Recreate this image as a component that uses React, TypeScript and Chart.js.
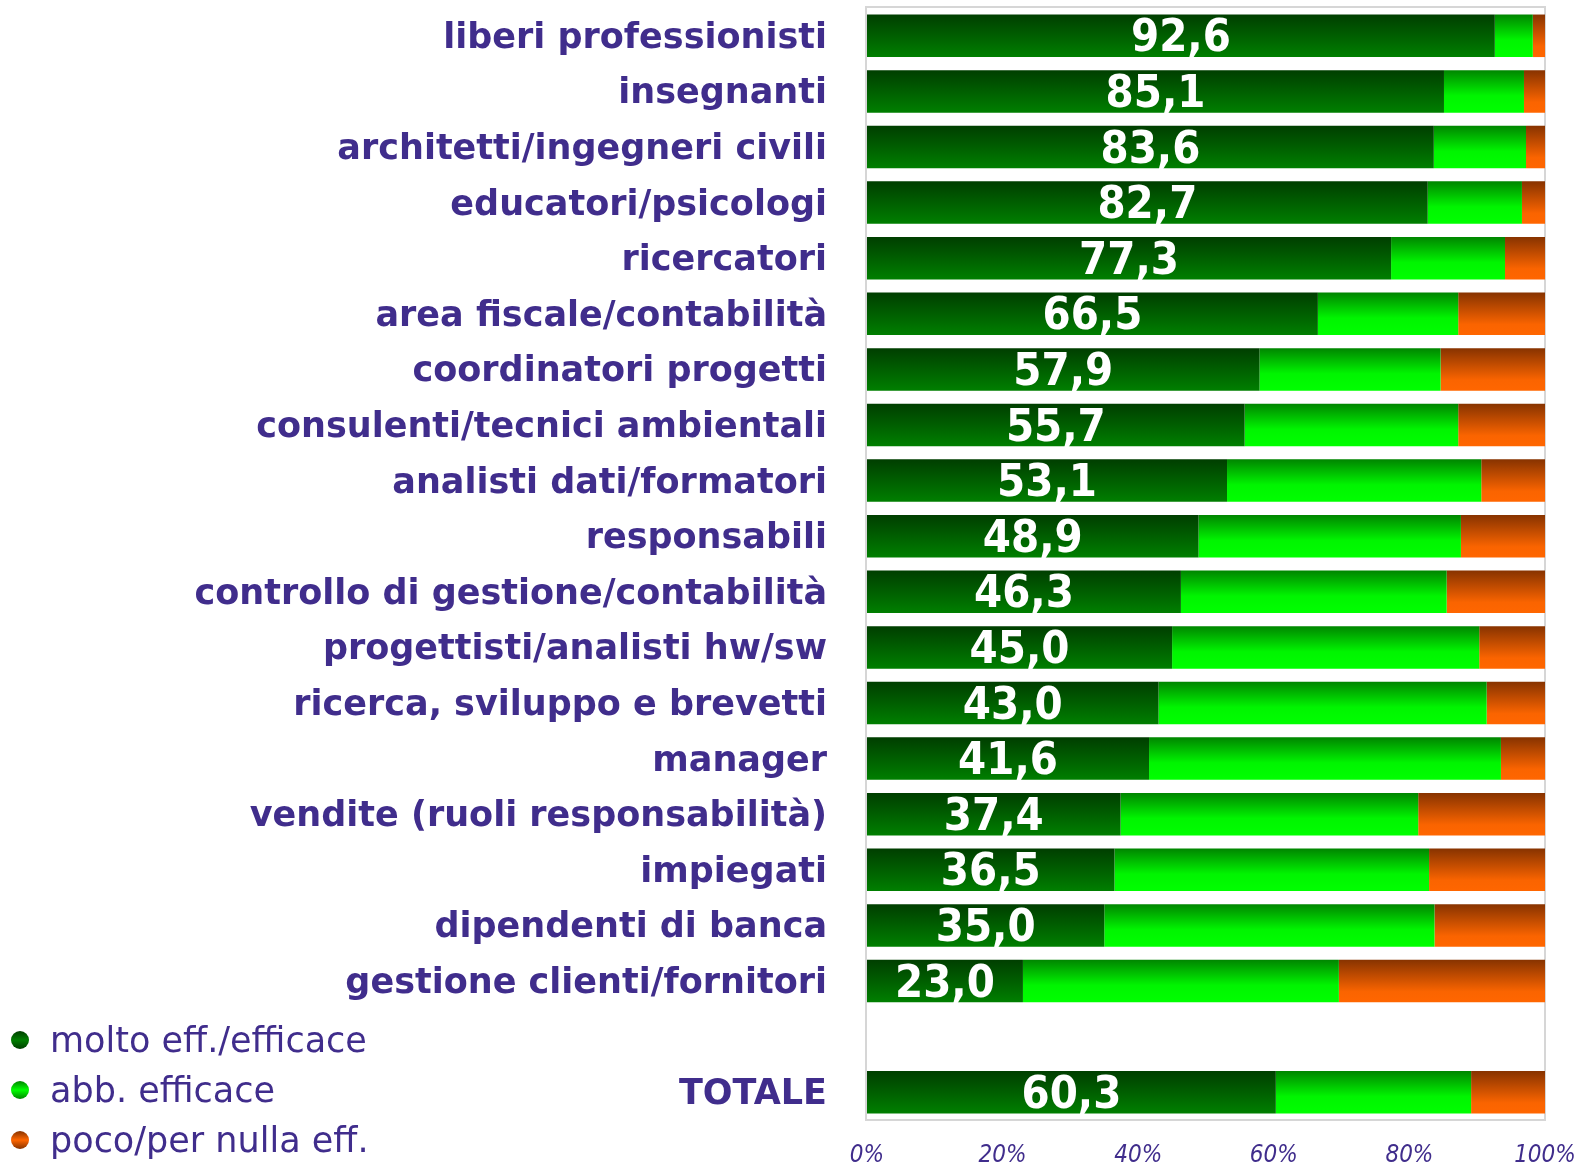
import React, { useEffect, useRef } from "react";
import { Chart, registerables } from "chart.js";

Chart.register(...registerables);

const categories: string[] = [
  "liberi professionisti",
  "insegnanti",
  "architetti/ingegneri civili",
  "educatori/psicologi",
  "ricercatori",
  "area fiscale/contabilità",
  "coordinatori progetti",
  "consulenti/tecnici ambientali",
  "analisti dati/formatori",
  "responsabili",
  "controllo di gestione/contabilità",
  "progettisti/analisti hw/sw",
  "ricerca, sviluppo e brevetti",
  "manager",
  "vendite (ruoli responsabilità)",
  "impiegati",
  "dipendenti di banca",
  "gestione clienti/fornitori",
  "",
  "TOTALE",
];

const seriesNames: string[] = ["molto eff./efficace", "abb. efficace", "poco/per nulla eff."];

const moltoEfficace: (number | null)[] = [
  92.6, 85.1, 83.6, 82.7, 77.3, 66.5, 57.9, 55.7, 53.1, 48.9, 46.3, 45.0, 43.0, 41.6, 37.4, 36.5, 35.0, 23.0, null, 60.3,
];
const abbEfficace: (number | null)[] = [
  5.6, 11.8, 13.6, 13.9, 16.8, 20.7, 26.7, 31.5, 37.5, 38.7, 39.2, 45.3, 48.4, 51.9, 43.9, 46.4, 48.7, 46.6, null, 28.8,
];
const pocoNulla: (number | null)[] = [
  1.8, 3.1, 2.8, 3.4, 5.9, 12.8, 15.4, 12.8, 9.4, 12.4, 14.5, 9.7, 8.6, 6.5, 18.7, 17.1, 16.3, 30.4, null, 10.9,
];

const xTicks: number[] = [0, 20, 40, 60, 80, 100];

const TEXT_COLOR = "#402d8c";
const BAR_PCT = 0.765;

type Stop = [number, string];
const gradDark: Stop[] = [[0, "#003e00"], [1, "#007f00"]];
const gradLight: Stop[] = [[0, "#008500"], [0.6, "#00f500"], [1, "#00ff00"]];
const gradOrange: Stop[] = [[0, "#873300"], [0.75, "#fa6400"], [1, "#ff6600"]];

function barGradient(stops: Stop[]) {
  return (ctx: any) => {
    const chart = ctx.chart;
    const yScale = chart.scales && chart.scales.y;
    const fallback = stops[stops.length - 1][1];
    if (!yScale || ctx.dataIndex === undefined) return fallback;
    const center = yScale.getPixelForValue(ctx.dataIndex);
    const band = yScale.height / categories.length;
    const h = band * BAR_PCT;
    if (!isFinite(center) || !isFinite(h) || h <= 0) return fallback;
    const g = chart.ctx.createLinearGradient(0, center - h / 2, 0, center + h / 2);
    stops.forEach(([o, c]) => g.addColorStop(o, c));
    return g;
  };
}

const frameAndLabels = {
  id: "frameAndLabels",
  beforeDatasetsDraw(chart: any) {
    const { ctx, chartArea } = chart;
    ctx.save();
    ctx.strokeStyle = "#d6d6d6";
    ctx.lineWidth = 2;
    ctx.strokeRect(chartArea.left - 1, chartArea.top - 1, chartArea.right - chartArea.left + 1, chartArea.bottom - chartArea.top + 1);
    ctx.restore();
  },
  afterDatasetsDraw(chart: any) {
    const { ctx } = chart;
    const meta = chart.getDatasetMeta(0);
    ctx.save();
    ctx.fillStyle = "#ffffff";
    ctx.textAlign = "center";
    ctx.textBaseline = "middle";
    ctx.font = "bold 45px 'DejaVu Sans Condensed', 'DejaVu Sans', sans-serif";
    meta.data.forEach((el: any, i: number) => {
      const v = moltoEfficace[i];
      if (v === null || v === undefined) return;
      const props = el.getProps(["x", "y", "base"], true);
      const cx = (props.x + props.base) / 2;
      ctx.fillText(v.toFixed(1).replace(".", ","), cx, props.y + 4);
    });
    ctx.restore();

    // legend
    const colors = [gradDark, gradLight, gradOrange];
    const ys = [1040, 1090, 1140];
    ctx.save();
    ctx.font = "35px 'DejaVu Sans', sans-serif";
    ctx.textAlign = "left";
    ctx.textBaseline = "middle";
    seriesNames.forEach((name, i) => {
      const y = ys[i];
      const r = 9;
      const g = ctx.createLinearGradient(0, y - r, 0, y + r);
      g.addColorStop(0, colors[i][0][1]);
      g.addColorStop(0.5, colors[i][colors[i].length - 1][1]);
      g.addColorStop(1, colors[i][0][1]);
      ctx.beginPath();
      ctx.arc(20, y, r, 0, Math.PI * 2);
      ctx.fillStyle = g;
      ctx.fill();
      ctx.fillStyle = TEXT_COLOR;
      ctx.fillText(name, 50, y + 3);
    });
    ctx.restore();
  },
};

export default function App() {
  const canvasRef = useRef<HTMLCanvasElement | null>(null);

  useEffect(() => {
    if (!canvasRef.current) return;
    const chart = new Chart(canvasRef.current, {
      type: "bar",
      data: {
        labels: categories,
        datasets: [
          { label: seriesNames[0], data: moltoEfficace, backgroundColor: barGradient(gradDark), borderWidth: 0 },
          { label: seriesNames[1], data: abbEfficace, backgroundColor: barGradient(gradLight), borderWidth: 0 },
          { label: seriesNames[2], data: pocoNulla, backgroundColor: barGradient(gradOrange), borderWidth: 0 },
        ],
      },
      options: {
        indexAxis: "y",
        responsive: false,
        animation: false,
        datasets: { bar: { barPercentage: BAR_PCT, categoryPercentage: 1 } },
        layout: { padding: { top: 8, right: 33, bottom: 0, left: 0 } },
        plugins: {
          legend: { display: false },
          tooltip: { enabled: false },
        },
        scales: {
          x: {
            stacked: true,
            min: 0,
            max: 100,
            afterBuildTicks: (scale: any) => {
              scale.ticks = xTicks.map((v) => ({ value: v }));
            },
            afterFit: (scale: any) => {
              scale.height = 43;
              scale.paddingLeft = 0;
              scale.paddingRight = 0;
            },
            grid: { display: false, drawTicks: false },
            border: { display: false },
            ticks: {
              padding: 21,
              color: TEXT_COLOR,
              maxRotation: 0,
              font: { family: "'Liberation Sans Narrow', 'DejaVu Sans Condensed', 'Open Sans', sans-serif", size: 24, style: "italic" },
              callback: (v: any) => v + "%",
            },
          },
          y: {
            stacked: true,
            afterFit: (scale: any) => {
              scale.width = 867;
              scale.paddingTop = 0;
              scale.paddingBottom = 0;
            },
            grid: { display: false, drawTicks: false },
            border: { display: false },
            ticks: {
              padding: 40,
              labelOffset: 3,
              color: TEXT_COLOR,
              autoSkip: false,
              font: { family: "'DejaVu Sans', sans-serif", size: 35, weight: "bold" },
            },
          },
        },
      },
      plugins: [frameAndLabels],
    });
    chart.update();
    return () => chart.destroy();
  }, []);

  return (
    <div style={{ position: "absolute", left: 0, top: 0, width: 1578, height: 1163, background: "#ffffff" }}>
      <canvas ref={canvasRef} width={1578} height={1163} style={{ display: "block" }} />
    </div>
  );
}
